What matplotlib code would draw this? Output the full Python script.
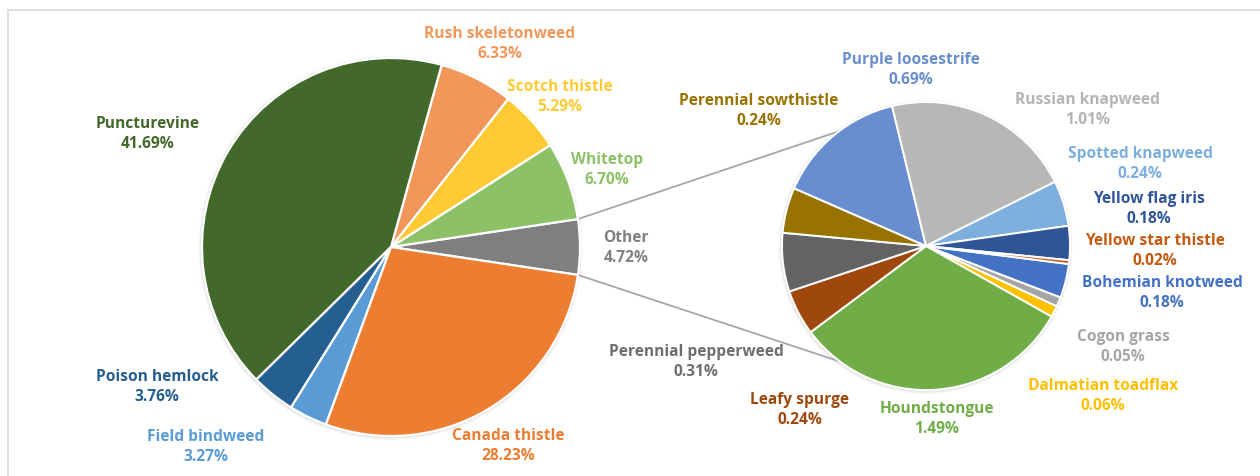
import matplotlib
matplotlib.use("Agg")
import matplotlib.pyplot as plt
from matplotlib.patches import Rectangle, Circle
import numpy as np

# ---- data -------------------------------------------------------------
main_names = ["Other", "Whitetop", "Scotch thistle", "Rush skeletonweed",
              "Puncturevine", "Poison hemlock", "Field bindweed", "Canada thistle"]
main_values = [4.72, 6.70, 5.29, 6.33, 41.69, 3.76, 3.27, 28.23]
main_colors = ["#7F7F7F", "#8CC168", "#FFCA33", "#F1975A",
               "#43682B", "#255E91", "#5B9BD5", "#ED7D31"]

other_names = ["Bohemian knotweed", "Cogon grass", "Dalmatian toadflax", "Houndstongue",
               "Leafy spurge", "Perennial pepperweed", "Perennial sowthistle",
               "Purple loosestrife", "Russian knapweed", "Spotted knapweed",
               "Yellow flag iris", "Yellow star thistle"]
other_values = [0.18, 0.05, 0.06, 1.49, 0.24, 0.31, 0.24, 0.69, 1.01, 0.24, 0.18, 0.02]
other_colors = ["#4472C4", "#A5A5A5", "#FFC000", "#70AD47", "#9E480E", "#636363",
                "#997300", "#698ED0", "#B7B7B7", "#7CAFDD", "#2F5597", "#C55A11"]

# ---- layout (pixel space, y measured from the top) --------------------
W, H = 1260, 476
main_center, main_r = (391, 247), 189
sub_center, sub_r = (926, 246), 144

label_pos = {
    "Puncturevine": (148, 134), "Rush skeletonweed": (500, 44),
    "Scotch thistle": (560, 97), "Whitetop": (607, 170), "Other": (626, 248),
    "Canada thistle": (508, 446), "Field bindweed": (206, 447),
    "Poison hemlock": (157, 387),
    "Purple loosestrife": (911, 70), "Perennial sowthistle": (759, 111),
    "Russian knapweed": (1087, 110), "Spotted knapweed": (1140, 164),
    "Yellow flag iris": (1149, 209), "Yellow star thistle": (1155, 251),
    "Bohemian knotweed": (1162, 293), "Cogon grass": (1123, 347),
    "Dalmatian toadflax": (1103, 396), "Houndstongue": (937, 419),
    "Leafy spurge": (800, 410), "Perennial pepperweed": (696, 362),
}
label_colors = {"Russian knapweed": "#B4B4B4", "Cogon grass": "#A6A6A6",
                "Other": "#808080", "Perennial pepperweed": "#6E6E6E"}


def to_data(p):
    return (p[0], H - p[1])


plt.rcParams["font.family"] = ["Open Sans", "DejaVu Sans"]
fig = plt.figure(figsize=(W / 100, H / 100), dpi=100)
ax = fig.add_axes([0, 0, 1, 1])

# chart-area border
ax.add_patch(Rectangle((8, -20), W + 40, H - 10 + 20, fill=False,
                       edgecolor="#D9D9D9", linewidth=1.2, zorder=0))

mc = to_data(main_center)
sc = to_data(sub_center)
total = sum(main_values)
half = 180.0 * main_values[0] / total

# soft shadow rims
for c, r in ((mc, main_r), (sc, sub_r)):
    for k, a in ((3.0, 0.06), (1.8, 0.10)):
        ax.add_patch(Circle((c[0] - 0.5, c[1] - 1), r + k, color="#808080",
                            alpha=a, lw=0, zorder=1))

explode_main = [0.0, 0.0, 0.0, 0.0, 0.012, 0.0, 0.0, 0.012]
ax.pie(main_values, colors=main_colors, center=mc, radius=main_r,
       startangle=-half, counterclock=True, explode=explode_main,
       wedgeprops=dict(edgecolor="white", linewidth=1.6, zorder=2))

ax.pie(other_values, colors=other_colors, center=sc, radius=sub_r,
       startangle=-7.2, counterclock=False,
       wedgeprops=dict(edgecolor="white", linewidth=1.4, zorder=2))

# connector lines from the "Other" slice to the secondary pie
a = np.deg2rad(half)
x0 = mc[0] + main_r * np.cos(a)
ax.plot([x0, sc[0]], [mc[1] + main_r * np.sin(a), sc[1] + sub_r],
        color="#A6A6A6", lw=1.3, zorder=1.5)
ax.plot([x0, sc[0]], [mc[1] - main_r * np.sin(a), sc[1] - sub_r],
        color="#A6A6A6", lw=1.3, zorder=1.5)

# data labels
for names, values, colors in ((main_names, main_values, main_colors),
                              (other_names, other_values, other_colors)):
    for n, v, c in zip(names, values, colors):
        x, y = to_data(label_pos[n])
        ax.text(x, y, f"{n}\n{v:.2f}%", ha="center", va="center",
                fontsize=11.2, fontweight="bold", color=label_colors.get(n, c),
                linespacing=1.38, zorder=5)

ax.set_xlim(0, W)
ax.set_ylim(0, H)
ax.set_aspect("equal")
ax.axis("off")
fig.savefig("out.png", dpi=100, facecolor="white")
